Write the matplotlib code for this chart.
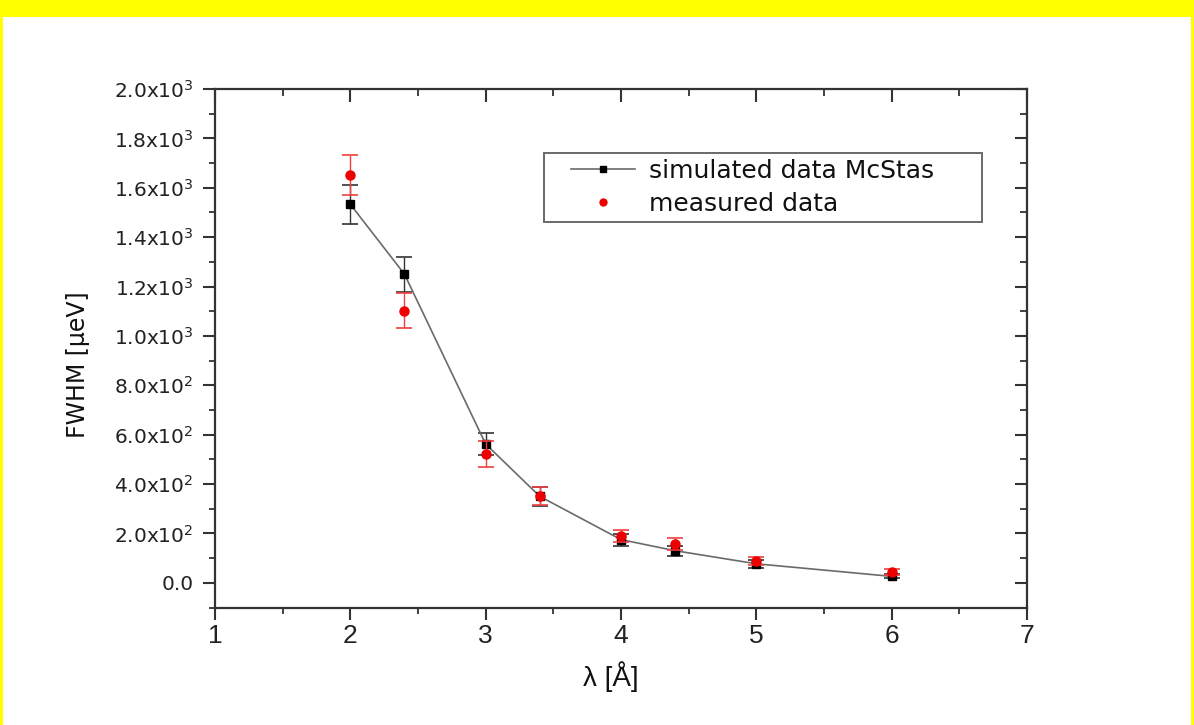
import matplotlib
matplotlib.use("Agg")
import matplotlib.pyplot as plt
from matplotlib.patches import Rectangle
from matplotlib.ticker import MultipleLocator, FixedLocator, FixedFormatter
from matplotlib.legend_handler import HandlerLine2D

# Wavelength (Angstrom)
wavelength = [2.0, 2.4, 3.0, 3.4, 4.0, 4.4, 5.0, 6.0]

# Simulated FWHM (McStas) and its uncertainty, in micro-eV
fwhm_sim = [1533, 1250, 562, 350, 175, 130, 77, 26]
err_sim = [78, 71, 46, 37, 24, 20, 16, 8]

# Measured FWHM and its uncertainty, in micro-eV
fwhm_meas = [1652, 1102, 523, 353, 190, 158, 89, 42]
err_meas = [82, 70, 52, 36, 25, 25, 16, 12]

ytick_values = [0, 200, 400, 600, 800, 1000, 1200, 1400, 1600, 1800, 2000]
ytick_labels = ["0.0", r"2.0x10$^2$", r"4.0x10$^2$", r"6.0x10$^2$", r"8.0x10$^2$",
                r"1.0x10$^3$", r"1.2x10$^3$", r"1.4x10$^3$", r"1.6x10$^3$",
                r"1.8x10$^3$", r"2.0x10$^3$"]
xtick_values = [1, 2, 3, 4, 5, 6, 7]

narrow = "Liberation Sans"

W, H = 1194, 725
fig = plt.figure(figsize=(W / 100, H / 100), dpi=100)
fig.patch.set_facecolor("white")

# yellow frame around the page
yellow = "#ffff00"
fig.add_artist(Rectangle((0, 1 - 17 / H), 1, 17 / H, transform=fig.transFigure,
                         color=yellow, lw=0, zorder=0))
fig.add_artist(Rectangle((0, 0), 3 / W, 1, transform=fig.transFigure,
                         color=yellow, lw=0, zorder=0))
fig.add_artist(Rectangle((1 - 3 / W, 0), 3 / W, 1, transform=fig.transFigure,
                         color=yellow, lw=0, zorder=0))

left, right, top, bottom = 215, 1027, 89, 607.5
ax = fig.add_axes([left / W, 1 - bottom / H, (right - left) / W, (bottom - top) / H])

spine_col = "#333333"
for s in ax.spines.values():
    s.set_linewidth(1.6)
    s.set_color(spine_col)

# simulated data: grey connecting line, black squares, black error bars
ax.errorbar(wavelength, fwhm_sim, yerr=err_sim, fmt="none", ecolor="#333333",
            elinewidth=1.0, capsize=6, capthick=1.2, zorder=2)
ax.plot(wavelength, fwhm_sim, color="#6a6a6a", lw=1.2, zorder=3)
ax.plot(wavelength, fwhm_sim, ls="none", marker="s", ms=6, color="black", zorder=4)

# measured data: red circles with red error bars
ax.errorbar(wavelength, fwhm_meas, yerr=err_meas, fmt="none", ecolor="#f04040",
            elinewidth=1.0, capsize=6, capthick=1.2, zorder=5)
ax.plot(wavelength, fwhm_meas, ls="none", marker="o", ms=6.5, color="#ee0000",
        zorder=6)

ax.set_xlim(1, 7)
ax.set_ylim(-100, 2000)

ax.xaxis.set_major_locator(FixedLocator(xtick_values))
ax.xaxis.set_minor_locator(MultipleLocator(0.5))
ax.yaxis.set_major_locator(FixedLocator(ytick_values))
ax.yaxis.set_major_formatter(FixedFormatter(ytick_labels))
ax.yaxis.set_minor_locator(MultipleLocator(100))

ax.tick_params(which="both", direction="out", color=spine_col, top=False, right=False)
ax.tick_params(which="major", length=8.6, width=1.5)
ax.tick_params(which="minor", length=4.3, width=1.3)
ax.tick_params(axis="y", which="major", labelsize=14.5, pad=7, labelcolor="#222222")
ax.tick_params(axis="x", which="major", labelsize=19, pad=3, labelcolor="#222222",
               labelfontfamily=narrow)

# inward ticks on the top and right edges
top_ax = ax.secondary_xaxis("top")
top_ax.xaxis.set_major_locator(FixedLocator(xtick_values))
top_ax.xaxis.set_minor_locator(MultipleLocator(0.5))
top_ax.tick_params(which="both", direction="in", labeltop=False, color=spine_col)
top_ax.tick_params(which="major", length=9, width=1.5)
top_ax.tick_params(which="minor", length=5, width=1.3)
top_ax.spines["top"].set_visible(False)

right_ax = ax.secondary_yaxis("right")
right_ax.yaxis.set_major_locator(FixedLocator(ytick_values))
right_ax.yaxis.set_minor_locator(MultipleLocator(100))
right_ax.tick_params(which="both", direction="in", labelright=False, color=spine_col)
right_ax.tick_params(which="major", length=9, width=1.5)
right_ax.tick_params(which="minor", length=5, width=1.3)
right_ax.spines["right"].set_visible(False)

ax.set_ylabel("FWHM [μeV]", fontsize=17, color="#111111")
ax.yaxis.set_label_coords(-0.154, 0.468)
ax.set_xlabel("λ [Å]", fontsize=20, color="#111111", family=narrow)
ax.xaxis.set_label_coords(0.487, -0.103)

# legend entries
h_sim, = ax.plot([], [], color="#6a6a6a", lw=1.2, marker="s", ms=5,
                 markerfacecolor="black", markeredgecolor="black")
h_meas, = ax.plot([], [], ls="none", marker="o", ms=5, color="#ee0000")
leg = ax.legend([h_sim, h_meas], ["simulated data McStas", "measured data"],
                loc="upper left", bbox_to_anchor=(0.405, 0.749, 0.54, 0.128),
                mode="expand", fontsize=18, frameon=True, fancybox=False,
                edgecolor="#444444", borderpad=0.25, labelspacing=0.36,
                handlelength=3.4, handletextpad=0.55, borderaxespad=0,
                handler_map={h_sim: HandlerLine2D(xpad=0.85),
                             h_meas: HandlerLine2D(xpad=0.85)})
leg.get_frame().set_linewidth(1.4)
for t in leg.get_texts():
    t.set_color("#111111")

fig.savefig("out.png", dpi=100, facecolor=fig.get_facecolor())
